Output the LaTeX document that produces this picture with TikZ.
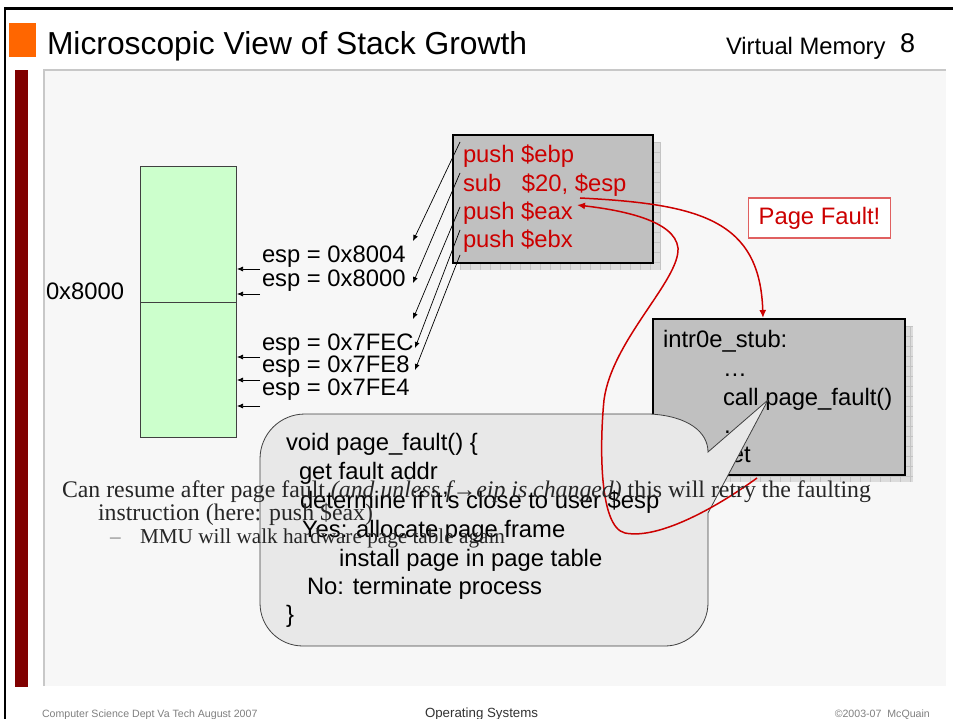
\documentclass[tikz,border=0pt]{standalone}
\usepackage{fontspec}
\setmainfont{Liberation Sans}
\newfontfamily\timesfont{Liberation Serif}
\usetikzlibrary{arrows.meta}
\definecolor{panelbg}{HTML}{F7F7F7}
\definecolor{panelline}{HTML}{C8C8C8}
\definecolor{barred}{HTML}{800000}
\definecolor{orangesq}{HTML}{FF6600}
\definecolor{stackgreen}{HTML}{CCFFCC}
\definecolor{boxgray}{HTML}{C0C0C0}
\definecolor{shadowgray}{HTML}{DCDCDC}
\definecolor{shadowline}{HTML}{C4C4C4}
\definecolor{codered}{HTML}{CC0000}
\definecolor{pfborder}{HTML}{E06060}
\definecolor{calloutfill}{HTML}{E8E8E8}
\definecolor{calloutline}{HTML}{404040}
\definecolor{footgray}{HTML}{808080}
\newcommand\fsBig{\fontsize{31.8}{36}\selectfont}
\newcommand\fsMid{\fontsize{23.8}{28}\selectfont}
\newcommand\fsSub{\fontsize{21.2}{25}\selectfont}
\newcommand\fsEight{\fontsize{27}{30}\selectfont}
\newcommand\fsFoot{\fontsize{10.6}{12}\selectfont}
\newcommand\fsFootB{\fontsize{13.3}{15}\selectfont}
\begin{document}
\begin{tikzpicture}[x=1pt,y=-1pt,
  txt/.style={inner sep=0pt,outer sep=0pt,anchor=base west},
  boxrect/.style={draw=black,line width=2pt,fill=boxgray,inner sep=0pt,anchor=north west},
  stackrect/.style={draw=black!75,line width=0.7pt,fill=stackgreen,inner sep=0pt,anchor=north west,minimum width=96pt},
  blk/.style={-{Latex[length=6pt,width=5pt]},line width=0.7pt,black},
  redarr/.style={-{Latex[length=8pt,width=7pt]},line width=1.5pt,codered},
  codetxt/.style={txt,font=\fsMid,text=codered},
  stubtxt/.style={txt,font=\fsMid,text=black},
  calltxt/.style={txt,font=\fsMid,text=black},
  serif/.style={txt,font=\timesfont\fsMid,text=black!85},
]
\useasboundingbox (0,0) rectangle (953,719);
\fill[white] (0,0) rectangle (953,719);
% slide frame
\draw[black,line width=2.5pt] (5,719) -- (5,8.7) -- (953,8.7);
\fill[orangesq] (9,23) rectangle (36,57);
\fill[barred] (15,70) rectangle (28,687);
\fill[panelbg] (44,70) rectangle (946,686);
\draw[panelline,line width=1.5pt] (44,686) -- (44,70) -- (946,70);
% title
\node[txt,font=\fsBig] (title) at (47,55) {Microscopic View of Stack Growth};
\node[txt,font=\fsMid] (chapter) at (726,55) {Virtual Memory};
\node[txt,font=\fsEight] (pagenum) at (900,53) {8};
% stack
\node[stackrect,minimum height=136pt] (stackhi) at (140,166) {};
\node[stackrect,minimum height=135pt] (stacklo) at (140,302) {};
\node[txt,font=\fsMid] (addr) at (46,300) {0x8000};
\node[txt,font=\fsMid] (esp1) at (262,263) {esp = 0x8004};
\node[txt,font=\fsMid] (esp2) at (262,287) {esp = 0x8000};
\node[txt,font=\fsMid] (esp3) at (262,350) {esp = 0x7FEC};
\node[txt,font=\fsMid] (esp4) at (262,372) {esp = 0x7FE8};
\node[txt,font=\fsMid] (esp5) at (262,395) {esp = 0x7FE4};
\foreach \i/\yy in {1/269,2/294,3/357,4/380,5/406}{
  \coordinate (ps\i) at (260,\yy);
  \coordinate (pe\i) at (237,\yy);
  \draw[blk] (ps\i) -- (pe\i);
}
% push box
\fill[shadowgray] (460,142) rectangle (661,270);
\begin{scope}
\clip (460,142) rectangle (661,270);
\foreach \gx in {460,470,...,660} \draw[shadowline,line width=0.4pt] (\gx,142) -- (\gx,270);
\foreach \gy in {142,152,...,270} \draw[shadowline,line width=0.4pt] (460,\gy) -- (661,\gy);
\end{scope}
\node[boxrect,minimum width=200pt,minimum height=128pt] (pushbox) at (452,134) {};
\node[codetxt] (ebp) at (463,163) {push \$ebp};
\node[codetxt] (sub) at (463,192) {sub\hspace{20.5pt}\$20, \$esp};
\node[codetxt] (eax) at (463,220) {push \$eax};
\node[codetxt] (ebx) at (463,248) {push \$ebx};
\foreach \i/\sy/\ex/\ey in {1/142/413/241,2/173/413/283,3/207/413/319,4/230/415/348,5/255/415/370}{
  \coordinate (ds\i) at (460,\sy);
  \coordinate (de\i) at (\ex,\ey);
  \draw[blk] (ds\i) -- (de\i);
}
% page fault label
\node[draw=pfborder,line width=1.2pt,fill=white,minimum width=142pt,minimum height=40pt,inner sep=0pt,font=\fsMid,text=codered] (pfbox) at (819.5,218) {Page Fault!};
% stub box
\fill[shadowgray] (660,326) rectangle (913,482);
\begin{scope}
\clip (660,326) rectangle (913,482);
\foreach \gx in {660,670,...,910} \draw[shadowline,line width=0.4pt] (\gx,326) -- (\gx,482);
\foreach \gy in {326,336,...,482} \draw[shadowline,line width=0.4pt] (660,\gy) -- (913,\gy);
\end{scope}
\node[boxrect,minimum width=252pt,minimum height=156pt] (stubbox) at (652,318) {};
\node[stubtxt] (stub1) at (663,348) {intr0e\_stub:};
\node[stubtxt] (stub2) at (723,376) {…};
\node[stubtxt] (stub3) at (723,405) {call page\_fault()};
\node[stubtxt] (stub4) at (723,433) {…};
\node[stubtxt] (stub5) at (723,462) {ret};
% callout
\draw[calloutline,fill=calloutfill,line width=0.8pt]
  (260,459) .. controls (260,434) and (280,414) .. (305,414)
  -- (650,414) .. controls (688,416) and (708,432) .. (708,452)
  -- (768,400) -- (708,513) -- (708,603)
  .. controls (708,627) and (688,646) .. (665,646)
  -- (303,646) .. controls (279,646) and (260,627) .. (260,603) -- cycle;
\node[calltxt] (c1) at (286,450) {void page\_fault() \{};
\node[calltxt] (c2) at (299,479) {get fault addr};
\node[calltxt] (c3) at (300,508) {determine if it’s close to user \$esp};
\node[calltxt] (c4) at (302,537) {Yes: allocate page frame};
\node[calltxt] (c5) at (339,566) {install page in page table};
\node[calltxt] (c6) at (307,594) {No: terminate process};
\node[calltxt] (c7) at (286,622) {\}};
% red arrows
\coordinate (esppt) at (580,198);
\coordinate (stubtop) at (763,318);
\draw[redarr] (esppt) .. controls (700,204) and (760,220) .. (stubtop);
\coordinate (retpt) at (757,478);
\coordinate (eaxpt) at (577,205);
\draw[redarr] (retpt) .. controls (720,505) and (660,540) .. (625,533)
  .. controls (598,527) and (600,440) .. (604,400)
  .. controls (612,340) and (680,280) .. (678,248)
  .. controls (675,220) and (620,210) .. (eaxpt);
% bullet text
\node[serif] (b1) at (62,497) {Can resume after page fault \textit{(and unless f→eip is changed)} this will retry the faulting};
\node[serif] (b2) at (98,520) {instruction (here: push \$eax)};
\node[txt,font=\timesfont\fsSub,text=footgray] (dash) at (110,543) {–};
\node[txt,font=\timesfont\fsSub,text=black!85] (b3) at (140,543) {MMU will walk hardware page table again};
% footer
\node[txt,font=\fsFoot,text=footgray] (f1) at (42,717) {Computer Science Dept Va Tech August 2007};
\node[txt,font=\fsFootB,text=black!80] (f2) at (425,717) {Operating Systems};
\node[inner sep=0pt,anchor=base east,font=\fsFoot,text=footgray] (f3) at (930,717) {©2003-07\ \ McQuain};
\end{tikzpicture}
\end{document}
